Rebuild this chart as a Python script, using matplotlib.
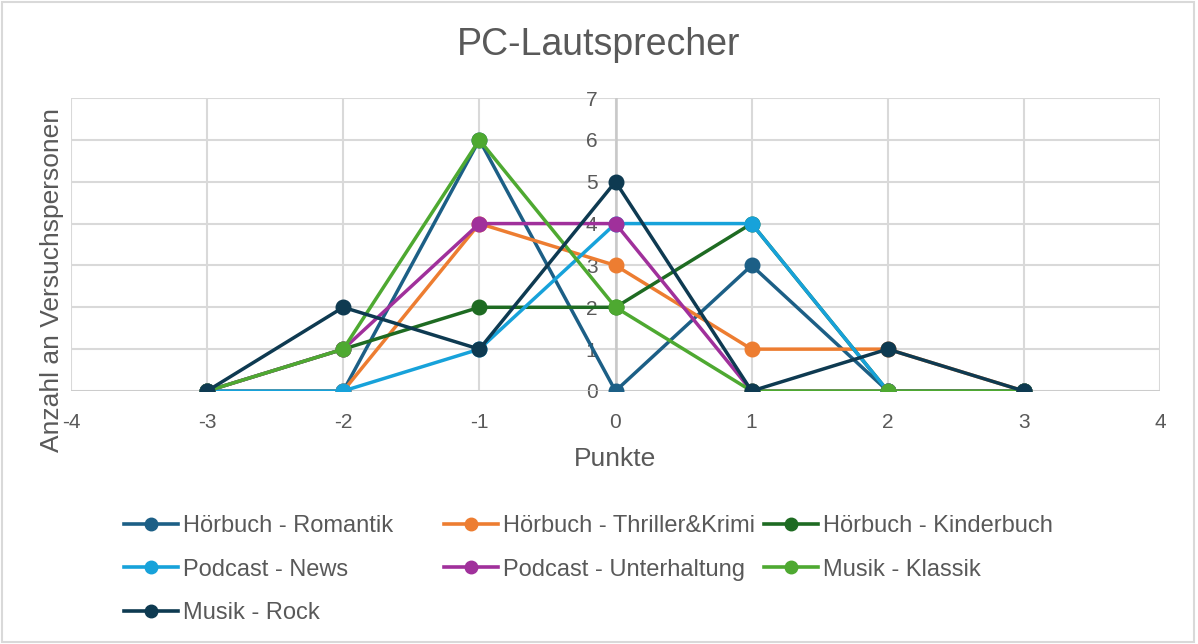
import matplotlib.pyplot as plt
from matplotlib.lines import Line2D

plt.rcParams['font.family'] = ['Liberation Sans', 'DejaVu Sans']
plt.rcParams['axes.unicode_minus'] = False

# data
punkte = [-3, -2, -1, 0, 1, 2, 3]
romantik = [0, 0, 6, 0, 3, 0, 0]
thriller = [0, 0, 4, 3, 1, 1, 0]
kinderbuch = [0, 1, 2, 2, 4, 0, 0]
news = [0, 0, 1, 4, 4, 0, 0]
unterhaltung = [0, 1, 4, 4, 0, 0, 0]
klassik = [0, 1, 6, 2, 0, 0, 0]
rock = [0, 2, 1, 5, 0, 1, 0]

series = [
    ("Hörbuch - Romantik", romantik, "#1c5f86"),
    ("Hörbuch - Thriller&Krimi", thriller, "#ed7d31"),
    ("Hörbuch - Kinderbuch", kinderbuch, "#1e6b22"),
    ("Podcast - News", news, "#17a2da"),
    ("Podcast - Unterhaltung", unterhaltung, "#a0309b"),
    ("Musik - Klassik", klassik, "#4ea931"),
    ("Musik - Rock", rock, "#0e3a51"),
]

grey = "#595959"
fig = plt.figure(figsize=(11.98, 6.44), dpi=100)
ax = fig.add_axes([71 / 1198, 1 - 391 / 644, 1089 / 1198, 293 / 644])

handles = []
for name, vals, col in series:
    ax.plot(punkte, vals, color=col, lw=2.5, marker="o", ms=10.5, zorder=3)
    handles.append(Line2D([], [], color=col, lw=2.6, marker="o", ms=9, label=name))

ax.set_xlim(-4, 4)
ax.set_ylim(0, 7)
ax.set_xticks(range(-4, 5))
ax.set_yticks(range(0, 8))
ax.grid(True, color="#d9d9d9", lw=1.5, zorder=0)
ax.set_axisbelow(True)
for s in ["top", "right", "bottom", "left"]:
    ax.spines[s].set_visible(False)
ax.axhline(0, color="#c8c8c8", lw=1.8, zorder=1)
ax.axvline(0, color="#c8c8c8", lw=1.8, zorder=1)
ax.spines["left"].set_position(("data", 0))
ax.tick_params(axis="y", length=0, pad=13, labelsize=15, labelcolor=grey)
ax.tick_params(axis="x", length=0, pad=16, labelsize=15, labelcolor=grey)

ax.set_xlabel("Punkte", fontsize=19, color=grey, labelpad=11)
fig.text(52 / 1198, 1 - 280 / 644, "Anzahl an Versuchspersonen", rotation=90,
         ha="center", va="center", fontsize=19, color=grey)
fig.suptitle("PC-Lautsprecher", y=1 - 45 / 644, va="center", fontsize=27, color=grey)

# legend laid out in fixed columns like the original
cols = [[0, 3, 6], [1, 4], [2, 5]]
xs = [124, 444, 764]
for idx, x in zip(cols, xs):
    fig.legend(handles=[handles[i] for i in idx], loc="upper left",
               bbox_to_anchor=(x / 1198, 1 - 515 / 644), frameon=False,
               fontsize=17, labelcolor=grey, handlelength=2.3, handletextpad=0.2,
               labelspacing=0.92, borderaxespad=0, borderpad=0)

fig.patches.append(plt.Rectangle((0.002, 0.003), 0.995, 0.994, transform=fig.transFigure,
                                 fill=False, edgecolor="#d9d9d9", lw=1.5))

fig.savefig("out.png", dpi=100)
